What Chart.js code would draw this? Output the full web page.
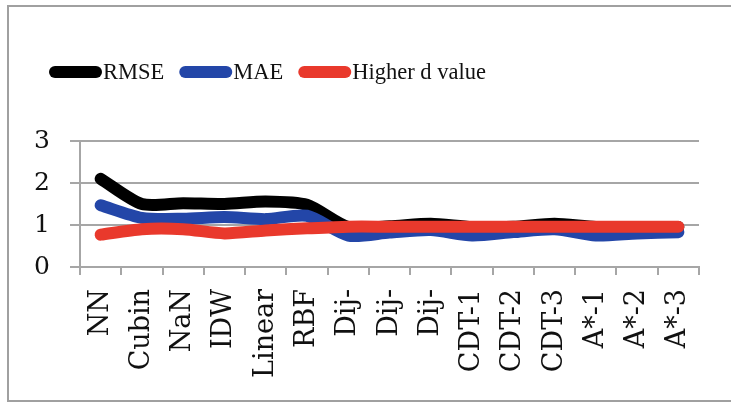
<!DOCTYPE html>
<html>
<head>
<meta charset="utf-8">
<script src="https://cdn.jsdelivr.net/npm/chart.js@4/dist/chart.umd.min.js"></script>
<style>
  html, body { margin: 0; padding: 0; background: #ffffff; overflow: hidden; }
  #wrap { width: 731px; height: 403px; position: relative; }
</style>
</head>
<body>
<div id="wrap"><canvas id="c" width="731" height="403"></canvas></div>
<script>
// Interpolation methods compared
const categories = ['NN', 'Cubin', 'NaN', 'IDW', 'Linear', 'RBF', 'Dij-', 'Dij-', 'Dij-',
                    'CDT-1', 'CDT-2', 'CDT-3', 'A*-1', 'A*-2', 'A*-3'];

// Error measures per method
const rmse    = [2.10, 1.50, 1.52, 1.50, 1.56, 1.48, 0.95, 0.97, 1.03, 0.95, 0.96, 1.03, 0.95, 0.95, 0.95];
const mae     = [1.47, 1.17, 1.15, 1.19, 1.14, 1.22, 0.75, 0.82, 0.88, 0.75, 0.83, 0.90, 0.75, 0.80, 0.83];
const higherD = [0.77, 0.90, 0.90, 0.80, 0.87, 0.92, 0.96, 0.96, 0.96, 0.96, 0.96, 0.96, 0.96, 0.96, 0.96];

const yTicks = [0, 1, 2, 3];

const seriesNames = ['RMSE', 'MAE', 'Higher d value'];
const seriesColors = ['#000000', '#2346a8', '#e9392c'];

const gridColor = '#a6a6a6';
const serif = "'DejaVu Serif', 'Liberation Serif', serif";
const legendFont = "22.5px 'Liberation Serif', serif";

// Outer frame around the chart (open on the right side)
const framePlugin = {
  id: 'frame',
  beforeDraw(chart) {
    const ctx = chart.ctx;
    ctx.save();
    ctx.fillStyle = '#ffffff';
    ctx.fillRect(0, 0, chart.width, chart.height);
    ctx.strokeStyle = '#a0a0a0';
    ctx.lineWidth = 2;
    ctx.beginPath();
    ctx.moveTo(chart.width, 6);
    ctx.lineTo(8, 6);
    ctx.lineTo(8, chart.height - 2);
    ctx.lineTo(chart.width, chart.height - 2);
    ctx.stroke();
    ctx.restore();
  }
};

// Legend row: thick rounded line swatch followed directly by the series name
const lineLegend = {
  id: 'lineLegend',
  afterDraw(chart) {
    const ctx = chart.ctx;
    ctx.save();
    ctx.font = legendFont;
    ctx.textBaseline = 'middle';
    ctx.textAlign = 'left';
    let x = 49;
    const y = 72;
    chart.data.datasets.forEach((ds) => {
      ctx.strokeStyle = ds.borderColor;
      ctx.lineWidth = 12;
      ctx.lineCap = 'round';
      ctx.beginPath();
      ctx.moveTo(x + 6, y);
      ctx.lineTo(x + 47, y);
      ctx.stroke();
      x += 54;
      ctx.fillStyle = '#111111';
      ctx.fillText(ds.label, x, y + 1);
      x += ctx.measureText(ds.label).width + 15;
    });
    ctx.restore();
  }
};

const series = [rmse, mae, higherD];
const datasets = series.map((values, i) => ({
  label: seriesNames[i],
  data: values,
  borderColor: seriesColors[i],
  backgroundColor: seriesColors[i],
  borderWidth: 12,
  borderCapStyle: 'round',
  borderJoinStyle: 'round',
  pointRadius: 0,
  tension: 0.25,
  fill: false,
  order: series.length - i
}));

new Chart(document.getElementById('c'), {
  type: 'line',
  data: { labels: categories, datasets: datasets },
  plugins: [framePlugin, lineLegend],
  options: {
    responsive: false,
    animation: false,
    layout: { padding: { top: 141, right: 32, left: 0, bottom: 0 } },
    plugins: {
      legend: { display: false },
      tooltip: { enabled: false }
    },
    scales: {
      x: {
        type: 'category',
        offset: true,
        afterFit(scale) { scale.height = 136; },
        grid: {
          display: true,
          drawOnChartArea: false,
          offset: true,
          tickLength: 8,
          color: gridColor,
          lineWidth: 2
        },
        border: { display: true, color: gridColor, width: 2 },
        ticks: {
          autoSkip: false,
          minRotation: 90,
          maxRotation: 90,
          padding: 14,
          color: '#111111',
          font: { family: serif, size: 27 }
        }
      },
      y: {
        min: yTicks[0],
        max: yTicks[yTicks.length - 1],
        afterFit(scale) { scale.width = 80; },
        afterBuildTicks(scale) { scale.ticks = yTicks.map(v => ({ value: v })); },
        grid: {
          color: gridColor,
          lineWidth: 2,
          tickLength: 10
        },
        border: { display: true, color: gridColor, width: 2 },
        ticks: {
          padding: 20,
          color: '#111111',
          font: { family: serif, size: 25 }
        }
      }
    }
  }
});
</script>
</body>
</html>
